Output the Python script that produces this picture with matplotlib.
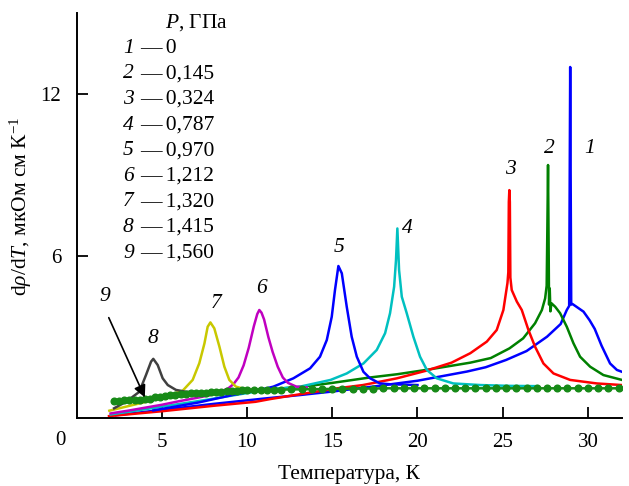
import matplotlib
matplotlib.use("Agg")
import matplotlib.pyplot as plt

plt.rcParams['font.family'] = ['Liberation Serif', 'DejaVu Serif']
plt.rcParams['mathtext.fontset'] = 'custom'
plt.rcParams['mathtext.rm'] = 'Liberation Serif'
plt.rcParams['mathtext.it'] = 'Liberation Serif:italic'

# ---- data ----
T1 = [2.3, 5.0, 8.0, 11.0, 13.1, 15.0, 17.6, 20.0, 22.9, 24.0, 25.2, 26.4, 27.6, 28.4, 28.76, 28.9, 28.96, 29.02, 29.1, 29.74, 30.1, 30.4, 30.8, 31.3, 31.7, 32.0]
Y1 = [0.10, 0.30, 0.52, 0.72, 0.85, 0.98, 1.18, 1.38, 1.72, 1.88, 2.15, 2.48, 3.01, 3.48, 4.0, 4.15, 13.0, 4.2, 4.22, 3.94, 3.62, 3.3, 2.68, 2.02, 1.78, 1.71]

T2 = [2.4, 5.0, 7.2, 10.0, 13.3, 15.0, 17.2, 18.8, 20.7, 23.1, 24.3, 25.4, 26.2, 26.9, 27.3, 27.49, 27.58, 27.62, 27.66, 27.70, 27.72, 27.76, 27.80, 27.86, 28.08, 28.37, 28.76, 29.15, 29.54, 30.13, 30.91, 32.0]
Y2 = [0.55, 0.72, 0.88, 1.00, 1.16, 1.30, 1.50, 1.62, 1.80, 2.05, 2.22, 2.58, 2.95, 3.51, 4.00, 4.43, 4.9, 7.0, 9.37, 6.0, 4.2, 4.8, 3.95, 4.25, 4.12, 3.88, 3.38, 2.77, 2.27, 1.90, 1.59, 1.41]

T3 = [1.9, 5.0, 8.0, 10.5, 11.35, 13.3, 15.3, 16.8, 18.8, 20.5, 22.0, 23.1, 24.07, 24.65, 25.04, 25.28, 25.33, 25.36, 25.39, 25.42, 25.45, 25.53, 25.83, 26.12, 26.51, 26.9, 27.39, 27.98, 28.96, 30.52, 32.0]
Y3 = [0.07, 0.25, 0.45, 0.60, 0.70, 0.90, 1.10, 1.22, 1.47, 1.75, 2.05, 2.40, 2.83, 3.26, 4.00, 5.00, 5.40, 8.0, 8.44, 8.0, 5.2, 4.74, 4.31, 4.00, 3.26, 2.64, 2.02, 1.65, 1.41, 1.28, 1.22]

T4 = [2.0, 5.0, 7.6, 11.1, 13.1, 14.9, 15.85, 16.83, 17.61, 18.1, 18.39, 18.63, 18.74, 18.82, 18.92, 19.08, 19.37, 19.76, 20.15, 20.55, 21.13, 22.1, 23.7, 25.4, 27.0]
Y4 = [0.13, 0.42, 0.67, 1.04, 1.16, 1.41, 1.65, 2.02, 2.52, 3.14, 3.88, 4.86, 5.85, 7.02, 5.48, 4.49, 3.88, 3.01, 2.27, 1.78, 1.47, 1.28, 1.22, 1.19, 1.18]

T5 = [4.5, 7.2, 9.2, 11.15, 11.54, 12.72, 13.7, 14.28, 14.68, 14.97, 15.16, 15.36, 15.56, 15.85, 16.14, 16.44, 16.83, 17.22, 17.8, 18.4, 20.0]
Y5 = [0.28, 0.58, 0.86, 1.10, 1.16, 1.47, 1.84, 2.27, 2.89, 3.75, 4.74, 5.63, 5.36, 4.12, 3.01, 2.27, 1.71, 1.47, 1.28, 1.25, 1.22]

T6 = [2.0, 3.0, 4.0, 5.0, 6.0, 7.0, 7.8, 8.4, 8.9, 9.2, 9.5, 9.8, 10.1, 10.4, 10.6, 10.72, 10.85, 11.0, 11.25, 11.5, 11.8, 12.1, 12.4, 12.9, 13.5]
Y6 = [0.17, 0.27, 0.38, 0.49, 0.62, 0.74, 0.84, 0.96, 1.10, 1.25, 1.50, 1.95, 2.60, 3.40, 3.85, 4.00, 3.90, 3.65, 3.00, 2.45, 1.90, 1.50, 1.30, 1.16, 1.13]

T7 = [1.92, 3.88, 5.44, 6.22, 6.81, 7.2, 7.5, 7.69, 7.85, 8.08, 8.38, 8.67, 8.96, 9.35, 9.94, 10.5]
Y7 = [0.27, 0.57, 0.85, 1.01, 1.41, 2.03, 2.76, 3.38, 3.54, 3.32, 2.64, 1.90, 1.41, 1.16, 1.06, 1.05]

T8 = [2.2, 2.9, 3.68, 4.07, 4.37, 4.5, 4.76, 5.05, 5.35, 5.83, 6.42, 7.5, 9.0]
Y8 = [0.36, 0.60, 0.97, 1.59, 2.09, 2.19, 1.96, 1.47, 1.22, 1.04, 0.97, 0.96, 0.98]

T9 = [2.2, 2.5, 2.8, 3.1, 3.4, 3.7, 4.0, 4.3, 4.6, 4.9, 5.2, 5.5, 5.8, 6.1, 6.4, 6.7, 7.0, 7.3, 7.6, 7.9,
      8.2, 8.5, 8.8, 9.1, 9.4, 9.7, 10.0, 10.4, 10.8, 11.2, 11.6, 12.0, 12.6, 13.2, 13.8, 14.4, 15.0, 15.6,
      16.2, 16.8, 17.4, 18.0, 18.6, 19.2, 19.8, 20.4, 21.0, 21.6, 22.2, 22.8, 23.4, 24.0, 24.6, 25.2, 25.8,
      26.4, 27.0, 27.6, 28.2, 28.8, 29.4, 30.0, 30.6, 31.2, 31.8]
Y9 = [0.62, 0.64, 0.65, 0.66, 0.67, 0.68, 0.69, 0.72, 0.76, 0.79, 0.82, 0.85, 0.87, 0.89, 0.90, 0.91, 0.92, 0.93, 0.94, 0.96,
      0.97, 0.98, 0.99, 1.00, 1.01, 1.02, 1.02, 1.03, 1.04, 1.04, 1.05, 1.05, 1.06, 1.06, 1.07, 1.07, 1.08, 1.08,
      1.09, 1.09, 1.09, 1.10, 1.10, 1.10, 1.10, 1.10, 1.10, 1.10, 1.10, 1.10, 1.10, 1.10, 1.10, 1.10, 1.10,
      1.10, 1.10, 1.10, 1.10, 1.10, 1.10, 1.10, 1.10, 1.10, 1.10]

curve_ids = ['1', '2', '3', '4', '5', '6', '7', '8', '9']
pressures = ['0', '0,145', '0,324', '0,787', '0,970', '1,212', '1,320', '1,415', '1,560']
label_pos = [(30.09, 9.99), (27.74, 9.99), (25.43, 9.19), (19.41, 7.02), (15.42, 6.32),
             (10.86, 4.80), (8.18, 4.25), (4.50, 2.95), (1.63, 4.49)]
xticks = [5, 10, 15, 20, 25, 30]
yticks = [6, 12]

colors = ['#0000ff', '#008000', '#ff0000', '#00c0c0', '#0000ff', '#c000c0', '#c8c800', '#404040', '#178a17']

FS = 15.5
W, H = 629, 486
fig = plt.figure(figsize=(W / 100, H / 100), dpi=100)
ax = fig.add_axes([76.6 / W, 1 - 418 / H, (622 - 76.6) / W, (418 - 13) / H])

series = [(T1, Y1), (T2, Y2), (T3, Y3), (T4, Y4), (T5, Y5), (T6, Y6), (T7, Y7), (T8, Y8)]
for i, (t, y) in enumerate(series):
    ax.plot(t, y, color=colors[i], lw=1.8, solid_joinstyle='round')
ax.plot(T9, Y9, color=colors[8], lw=1.8, marker='o', ms=4.8, mec=colors[8], mfc=colors[8])

ax.set_xlim(0, 32)
ax.set_ylim(0, 15)
ax.set_xticks(xticks)
ax.set_yticks(yticks)
ax.tick_params(direction='in', length=8, width=1.3, labelsize=15, pad=11)
for s in ['top', 'right']:
    ax.spines[s].set_visible(False)
for s in ['left', 'bottom']:
    ax.spines[s].set_linewidth(1.4)

ax.set_xlabel('Температура, К', fontsize=FS, labelpad=9)
fig.text(21 / W, 1 - 206 / H, r'd$\rho$/d$T$, мкОм см К$^{-1}$', rotation=90,
         ha='center', va='center', fontsize=FS)
fig.text(60 / W, 1 - 440 / H, '0', ha='center', va='center', fontsize=15)

for cid, (lx, ly) in zip(curve_ids, label_pos):
    ax.text(lx, ly, cid, style='italic', ha='center', va='center', fontsize=FS)

ax.annotate('', xy=(4.07, 0.67), xytext=(1.82, 3.81),
            arrowprops=dict(arrowstyle='-|>', color='black', lw=1.2, mutation_scale=18))

# legend block
fig.text(197 / W, 1 - 23 / H, r'$P$, ГПа', ha='center', va='center', fontsize=FS)
row_y = [48.3, 73.8, 99.4, 125.0, 150.6, 176.2, 201.8, 227.4, 253.0]
for cid, p, ry in zip(curve_ids, pressures, row_y):
    fig.text(123 / W, 1 - ry / H, cid, style='italic', ha='left', va='center', fontsize=FS)
    fig.text(140 / W, 1 - ry / H, '—\u2009' + p, ha='left', va='center', fontsize=FS)

fig.savefig('out.png', dpi=100)
